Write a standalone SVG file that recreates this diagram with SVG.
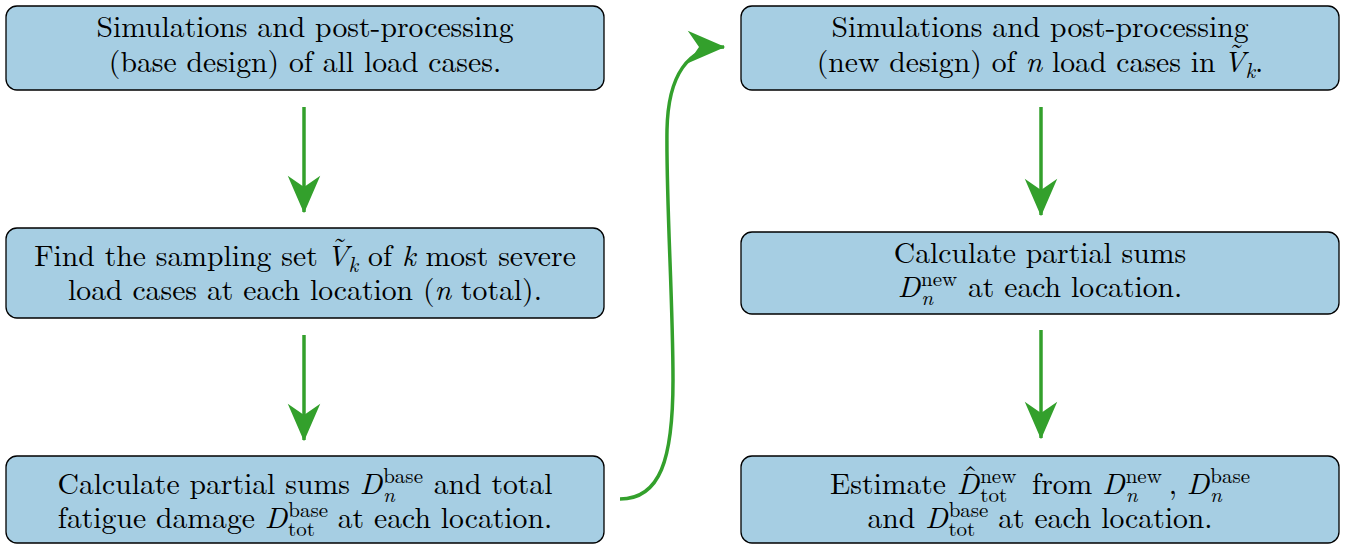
<svg xmlns="http://www.w3.org/2000/svg" width="1346" height="545" viewBox="0 0 1346 545">
<style>
.box{fill:#a6cee3;stroke:#000;stroke-width:1.3}
.t{font-size:29.7px;fill:#000;text-anchor:middle}
.i{font-style:italic}
.s{font-size:21px}
.c{fill:none;stroke:#33a02c;stroke-width:3.5}
</style>
<defs>
<marker id="ah" markerUnits="userSpaceOnUse" markerWidth="40" markerHeight="40" viewBox="-30 -15 32 30" refX="0" refY="0" orient="auto">
<path d="M1,0 L-29,-13 L-20,0 L-29,13 Z" fill="#33a02c"/>
</marker>
</defs>
<g id="connectors">
<path class="c" d="M304,107 V212" marker-end="url(#ah)"/>
<path class="c" d="M304,335 V440" marker-end="url(#ah)"/>
<path class="c" d="M1041,107 V215" marker-end="url(#ah)"/>
<path class="c" d="M1041,330 V438" marker-end="url(#ah)"/>
<path class="c" d="M620,499 C660,499 673,460 673,380 C673,300 666,200 667,130 C668,75 688,47 724,47" marker-end="url(#ah)"/>
</g>
<g font-family="Latin Modern Roman, Liberation Serif, serif">
<g id="n1">
<rect class="box" x="6" y="6" width="598" height="84" rx="11"/>
<text class="t" x="305" y="37">Simulations and post-processing</text>
<text class="t" x="305" y="72">(base design) of all load cases.</text>
</g>
<g id="n2">
<rect class="box" x="6" y="228" width="598" height="90" rx="11"/>
<text class="t" x="305" y="266">Find the sampling set <tspan dx="5" dy="-8">˜</tspan><tspan class="i" dx="-21" dy="8">V</tspan><tspan class="s i" dy="6">k</tspan><tspan dy="-6"> of </tspan><tspan class="i">k</tspan> most severe</text>
<text class="t" x="305" y="300">load cases at each location (<tspan class="i">n</tspan> total).</text>
</g>
<g id="n3">
<rect class="box" x="6" y="456" width="598" height="87" rx="11"/>
<text class="t" x="305" y="494">Calculate partial sums <tspan class="i">D</tspan><tspan class="s" dx="1" dy="-11">base</tspan><tspan class="s i" dx="-40" dy="19">n</tspan><tspan dx="29" dy="-8"> and total</tspan></text>
<text class="t" x="305" y="528">fatigue damage <tspan class="i">D</tspan><tspan class="s" dx="1" dy="-11">base</tspan><tspan class="s" dx="-40" dy="19">tot</tspan><tspan dx="13" dy="-8"> at each location.</tspan></text>
</g>
<g id="n4">
<rect class="box" x="741" y="6" width="598" height="84" rx="11"/>
<text class="t" x="1040" y="37">Simulations and post-processing</text>
<text class="t" x="1040" y="72">(new design) of <tspan class="i">n</tspan> load cases in <tspan dx="4" dy="-8">˜</tspan><tspan class="i" dx="-21" dy="8">V</tspan><tspan class="s i" dy="6">k</tspan><tspan dy="-6">.</tspan></text>
</g>
<g id="n5">
<rect class="box" x="741" y="232" width="598" height="82" rx="11"/>
<text class="t" x="1040" y="263">Calculate partial sums</text>
<text class="t" x="1040" y="297"><tspan class="i">D</tspan><tspan class="s" dx="1" dy="-11">new</tspan><tspan class="s i" dx="-36" dy="19">n</tspan><tspan dx="25" dy="-8"> at each location.</tspan></text>
</g>
<g id="n6">
<rect class="box" x="741" y="456" width="598" height="87" rx="11"/>
<text class="t" x="1040" y="494">Estimate <tspan dx="7" dy="-8">ˆ</tspan><tspan class="i" dx="-21" dy="8">D</tspan><tspan class="s" dx="1" dy="-11">new</tspan><tspan class="s" dx="-36" dy="19">tot</tspan><tspan dx="15" dy="-8"> from </tspan><tspan class="i">D</tspan><tspan class="s" dx="1" dy="-11">new</tspan><tspan class="s i" dx="-36" dy="19">n</tspan><tspan dx="31" dy="-8">, </tspan><tspan class="i">D</tspan><tspan class="s" dx="1" dy="-11">base</tspan><tspan class="s i" dx="-40" dy="19">n</tspan></text>
<text class="t" x="1040" y="528">and <tspan class="i">D</tspan><tspan class="s" dx="1" dy="-11">base</tspan><tspan class="s" dx="-40" dy="19">tot</tspan><tspan dx="13" dy="-8"> at each location.</tspan></text>
</g>
</g>
</svg>
